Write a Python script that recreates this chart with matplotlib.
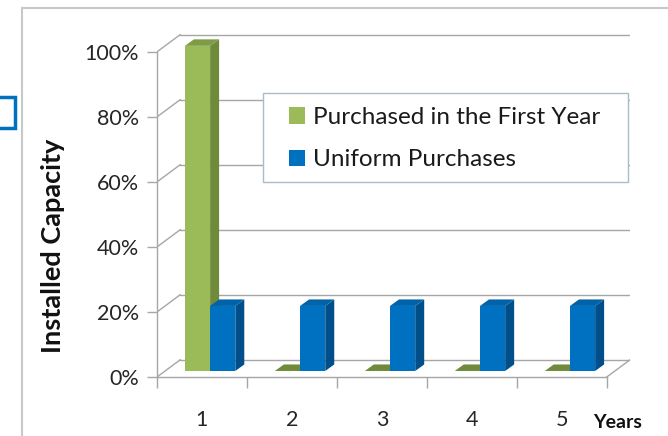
import matplotlib
matplotlib.use("Agg")
import matplotlib.pyplot as plt
from matplotlib.patches import Rectangle, Polygon, Patch
from matplotlib.lines import Line2D
from matplotlib.ticker import FuncFormatter

plt.rcParams["font.family"] = ["Lato", "DejaVu Sans"]

# installed capacity (%) per year
years = [1, 2, 3, 4, 5]
first_year = [100, 0, 0, 0, 0]
uniform = [20, 20, 20, 20, 20]
series_names = ["Purchased in the First Year", "Uniform Purchases"]
y_ticks = [0, 20, 40, 60, 80, 100]

# face colours: front, side, top
GREEN = ("#9BBB59", "#6F8A3A", "#7E9C45")
BLUE = ("#0070C0", "#004F8A", "#0062A8")
GRID = "#A6A6A6"

# fake 3-D projection (in data units)
DX, DY = 0.258, 5.3        # depth of the floor / walls
F0 = 0.35                  # bars sit this far back into the floor
BDX, BDY = 0.10, 2.0       # bar depth
W = 0.28                   # bar width

W_PX, H_PX = 668, 436
fig = plt.figure(figsize=(W_PX / 100, H_PX / 100), dpi=100)
ax = fig.add_axes([157 / W_PX, (H_PX - 377) / H_PX, (630 - 157) / W_PX, (377 - 33) / H_PX])
ax.set_xlim(0.5, 5.5 + DX)
ax.set_ylim(0, 100 + 5.8)

for s in ("top", "right"):
    ax.spines[s].set_visible(False)
for s in ("left", "bottom"):
    ax.spines[s].set_color(GRID)
    ax.spines[s].set_linewidth(1.0)
ax.spines["left"].set_bounds(0, 100)
ax.spines["bottom"].set_bounds(0.5, 5.5)

# walls: side-wall diagonals and back-wall gridlines
for v in y_ticks:
    ax.add_line(Line2D([0.5, 0.5 + DX], [v, v + DY], color=GRID, lw=1.0, zorder=1))
    ax.add_line(Line2D([0.5 + DX, 5.5 + DX], [v + DY, v + DY], color=GRID, lw=1.0, zorder=1))
# floor right edge
ax.add_line(Line2D([5.5, 5.5 + DX], [0, DY], color=GRID, lw=1.0, zorder=1))


def bar3d(x0, h, colors):
    front, side, top = colors
    y0 = F0 * DY
    if h > 0:
        ax.add_patch(Rectangle((x0, y0), W, h, facecolor=front, lw=0, zorder=3))
        ax.add_patch(Polygon([(x0 + W, y0), (x0 + W + BDX, y0 + BDY),
                              (x0 + W + BDX, y0 + h + BDY), (x0 + W, y0 + h)],
                             closed=True, facecolor=side, lw=0, zorder=3))
    ax.add_patch(Polygon([(x0, y0 + h), (x0 + W, y0 + h),
                          (x0 + W + BDX, y0 + h + BDY), (x0 + BDX, y0 + h + BDY)],
                         closed=True, facecolor=top if h > 0 else side, lw=0, zorder=3))


for yr, g, b in zip(years, first_year, uniform):
    shift = F0 * DX
    bar3d(yr - W + shift, g, GREEN)
    bar3d(yr + shift, b, BLUE)

# axes ticks
ax.set_yticks(y_ticks)
ax.yaxis.set_major_formatter(FuncFormatter(lambda v, _: f"{v:.0f}%"))
ax.tick_params(axis="y", direction="out", length=7, width=1.0, color=GRID,
               labelsize=15.5, labelcolor="#262626", pad=6)
ax.set_xticks([y - 0.5 for y in years] + [5.5])
ax.set_xticklabels([])
ax.set_xticks(years, minor=True)
ax.set_xticklabels([str(y) for y in years], minor=True, fontsize=15.5)
ax.tick_params(axis="x", which="major", direction="out", length=8, width=1.0, color=GRID)
ax.tick_params(axis="x", which="minor", length=0, labelcolor="#262626", pad=24)

ax.set_ylabel("Installed Capacity", fontsize=19.5, fontweight="bold", color="#111111")
ax.yaxis.set_label_coords(-0.194, 0.381)
ax.text(5.62, -13.9, "Years", fontsize=14, fontweight="bold", color="#111111",
        ha="center", va="center", clip_on=False)

# legend box (white, covers the gridlines behind it)
fig.add_artist(Rectangle((263 / W_PX, 1 - 182 / H_PX), 365 / W_PX, 89 / H_PX,
                         transform=fig.transFigure, facecolor="white",
                         edgecolor="#A9BCCB", lw=1.0, zorder=3))
handles = [Patch(facecolor=GREEN[0], edgecolor="none"), Patch(facecolor=BLUE[0], edgecolor="none")]
fig.legend(handles, series_names, loc="upper left",
           bbox_to_anchor=(289 / W_PX, 1 - 107 / H_PX), frameon=False,
           fontsize=17.5, handlelength=0.65, handleheight=0.65, handletextpad=0.35,
           labelspacing=0.88, borderpad=0, borderaxespad=0, labelcolor="#1a1a1a")

# outer chart border and the stray selection square on the left
fig.add_artist(Rectangle((22 / W_PX, -0.1), 1.1, 1.1 - 8 / H_PX, transform=fig.transFigure,
                         facecolor="none", edgecolor="#C8C8C8", lw=1.5, zorder=4))
fig.add_artist(Rectangle((-16 / W_PX, 1 - 128 / H_PX), 31 / W_PX, 31 / H_PX,
                         transform=fig.transFigure, facecolor="white",
                         edgecolor="#0070C0", lw=2.5, zorder=4))

fig.savefig("out.png", dpi=100)
